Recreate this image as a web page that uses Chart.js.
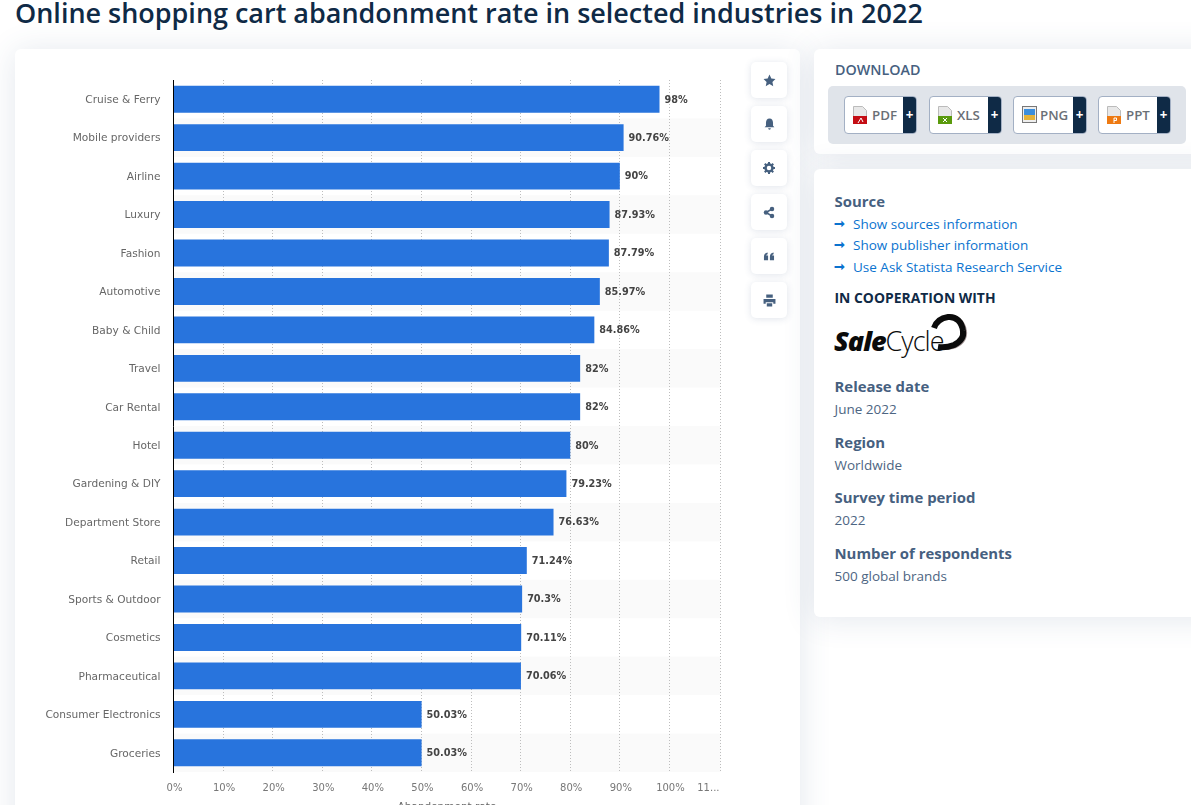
<!DOCTYPE html>
<html>
<head>
<meta charset="utf-8">
<title>Online shopping cart abandonment rate</title>
<script src="https://cdn.jsdelivr.net/npm/chart.js@4"></script>
<style>
html, body { margin: 0; padding: 0; width: 1191px; height: 805px; overflow: hidden; background: #fff; font-family: "Open Sans", sans-serif; }
.abs, .card, .side-btn, .dl-btn { position: absolute; }
.abs { white-space: nowrap; line-height: 20px; }
.card { background: #fff; border-radius: 6px; box-shadow: 0 2px 32px rgba(60, 85, 130, .14); }
h1 { position: absolute; left: 15px; top: -6px; margin: 0; font-size: 26.98px; line-height: 38px; font-weight: 600; color: #0f2a46; white-space: nowrap; }
.side-btn { left: 751px; width: 36px; height: 36px; background: #fff; border-radius: 5px; box-shadow: 0 1px 7px rgba(60, 85, 130, .16); display: flex; align-items: center; justify-content: center; }
.dl-btn { top: 96px; height: 36px; background: #fff; border: 1px solid #a3b0c4; border-radius: 4px; overflow: hidden; font-size: 13.3px; font-weight: 600; color: #6a6f76; }
.dl-btn span { position: absolute; top: 9px; }
.dl-btn i { position: absolute; right: 0; top: 0; width: 13px; height: 36px; background: #0f2a46; color: #fff; font-style: normal; text-align: center; line-height: 36px; font-weight: 700; }
.dl-btn svg { position: absolute; left: 8px; top: 9px; }
.head { font-size: 14.9px; font-weight: 700; color: #46607f; }
.val { font-size: 13.5px; color: #4d6582; }
.lnk { font-size: 13.5px; color: #0a73cf; }
.arr { font-size: 13px; font-weight: 700; color: #0a73cf; }
canvas { position: absolute; left: 0; top: 0; }
</style>
</head>
<body>
<h1>Online shopping cart abandonment rate in selected industries in 2022</h1>

<div class="card" style="left:15px;top:49px;width:785px;height:800px"></div>
<div class="card" style="left:814px;top:49px;width:420px;height:105px"></div>
<div class="card" style="left:814px;top:169px;width:420px;height:448px"></div>

<canvas id="cartchart" width="800" height="830" style="width:800px;height:830px"></canvas>

<div class="side-btn" style="top:62px"><svg width="13" height="13" viewBox="0 0 24 24"><path fill="#46607f" d="M12 1l3.4 7.2 7.6 1-5.6 5.4 1.5 7.9-6.9-3.9-6.9 3.9 1.5-7.9L1 9.2l7.6-1z"/></svg></div>
<div class="side-btn" style="top:106px"><svg width="13" height="14" viewBox="0 0 24 24"><path fill="#46607f" d="M12 2c4.500 0 6.500 3.500 6.500 8v5l2.500 3H3l2.500-3v-5c0-4.500 2-8 6.500-8zM9.500 20h5a2.500 2.500 0 0 1-5 0z"/></svg></div>
<div class="side-btn" style="top:150px"><svg width="12" height="12" viewBox="0 0 24 24"><circle cx="12" cy="12" r="7" fill="none" stroke="#46607f" stroke-width="5"/><path fill="none" stroke="#46607f" stroke-width="4" d="M12 0v5M12 19v5M0 12h5M19 12h5M3.500 3.500l3.500 3.500M17 17l3.500 3.500M3.500 20.500L7 17M17 7l3.500-3.500"/></svg></div>
<div class="side-btn" style="top:194px"><svg width="12" height="13" viewBox="0 0 24 24"><path fill="none" stroke="#46607f" stroke-width="3" d="M18 5L6 12l12 7"/><circle cx="18" cy="5" r="4.500" fill="#46607f"/><circle cx="6" cy="12" r="4.500" fill="#46607f"/><circle cx="18" cy="19" r="4.500" fill="#46607f"/></svg></div>
<div class="side-btn" style="top:238px"><svg width="12" height="11" viewBox="0 0 24 24"><path fill="#46607f" d="M1 12c0-5 3-8 8-9v4c-2 .5-3 1.500-3 3h4v10H1zM14 12c0-5 3-8 8-9v4c-2 .5-3 1.500-3 3h4v10h-9z"/></svg></div>
<div class="side-btn" style="top:282px"><svg width="13" height="13" viewBox="0 0 24 24"><path fill="#46607f" d="M6 1h12v6H6zM1 9h22v9h-4v-3H5v3H1zM7 17h10v6H7z"/></svg></div>

<div class="abs" style="left:835px;top:60px;font-size:14.3px;font-weight:600;color:#46607f">DOWNLOAD</div>
<div class="abs" style="left:828px;top:86px;width:358px;height:58px;background:#e0e4ea;border-radius:5px"></div>
<div class="dl-btn" style="left:844px;width:71px"><svg width="14" height="18" viewBox="0 0 14 18"><path fill="#e8e8e8" stroke="#bbb" d="M.5.500h9l4 4v13H.500z"/><rect y="10" width="14" height="8" fill="#c40d14"/><path stroke="#fff" fill="none" d="M5 17l3-5 2 4"/></svg><span style="left:27px">PDF</span><i>+</i></div>
<div class="dl-btn" style="left:929px;width:71px"><svg width="14" height="18" viewBox="0 0 14 18"><path fill="#e8e8e8" stroke="#bbb" d="M.5.500h9l4 4v13H.500z"/><rect y="10" width="14" height="8" fill="#5a9a0c"/><path stroke="#fff" d="M5 12l4 4M9 12l-4 4"/></svg><span style="left:27px">XLS</span><i>+</i></div>
<div class="dl-btn" style="left:1013px;width:72px"><svg width="15" height="17" viewBox="0 0 15 17"><rect x=".5" y=".5" width="14" height="16" fill="#eee" stroke="#777"/><rect x="2" y="3" width="11" height="6" fill="#3c8fdd"/><rect x="2" y="9" width="11" height="5" fill="#e5b33a"/></svg><span style="left:26px">PNG</span><i>+</i></div>
<div class="dl-btn" style="left:1098px;width:71px"><svg width="14" height="18" viewBox="0 0 14 18"><path fill="#e8e8e8" stroke="#bbb" d="M.5.500h9l4 4v13H.500z"/><rect y="10" width="14" height="8" fill="#ee7a12"/><path stroke="#fff" fill="none" d="M7 17v-5h2.500v2.500H7"/></svg><span style="left:27px">PPT</span><i>+</i></div>

<div class="abs head" style="left:834.5px;top:191px">Source</div>
<div class="abs arr" style="left:834px;top:213px">➞</div><div class="abs lnk" style="left:853px;top:214px">Show sources information</div>
<div class="abs arr" style="left:834px;top:234px">➞</div><div class="abs lnk" style="left:853px;top:235px">Show publisher information</div>
<div class="abs arr" style="left:834px;top:256px">➞</div><div class="abs lnk" style="left:853px;top:257px">Use Ask Statista Research Service</div>
<div class="abs" style="left:834.5px;top:288px;font-size:13.9px;font-weight:700;color:#0f2a46">IN COOPERATION WITH</div>

<div class="abs" style="left:834px;top:326px;font-size:27px;line-height:30px;color:#0b0b0b;letter-spacing:-1px"><b style="font-style:italic;font-weight:800">Sale</b><span style="font-weight:300">Cycle</span></div>
<svg class="abs" style="left:930px;top:312px" width="40" height="42" viewBox="0 0 40 42"><path d="M8 37c7 0 13 0 18-2 7-3 11-9 10-16C35 10 28 3 18 4 11 5 6 9 5 15" fill="none" stroke="#a89a9a" stroke-width="2"/><path d="M8 35c6 1 11 0 16-2 6-3 10-8 9-14C32 10 26 4 18 5 11 6 6 10 4 16" fill="none" stroke="#0b0b0b" stroke-width="6"/></svg>

<div class="abs head" style="left:834.5px;top:376px">Release date</div>
<div class="abs val" style="left:834.5px;top:399px">June 2022</div>
<div class="abs head" style="left:834.5px;top:432px">Region</div>
<div class="abs val" style="left:834.5px;top:455px">Worldwide</div>
<div class="abs head" style="left:834.5px;top:487px">Survey time period</div>
<div class="abs val" style="left:834.5px;top:510px">2022</div>
<div class="abs head" style="left:834.5px;top:543px">Number of respondents</div>
<div class="abs val" style="left:834.5px;top:566px">500 global brands</div>

<script>
const industries = ['Cruise & Ferry', 'Mobile providers', 'Airline', 'Luxury', 'Fashion', 'Automotive',
    'Baby & Child', 'Travel', 'Car Rental', 'Hotel', 'Gardening & DIY', 'Department Store', 'Retail',
    'Sports & Outdoor', 'Cosmetics', 'Pharmaceutical', 'Consumer Electronics', 'Groceries'];
const abandonment = [98, 90.76, 90, 87.93, 87.79, 85.97, 84.86, 82, 82, 80, 79.23, 76.63, 71.24, 70.3, 70.11, 70.06, 50.03, 50.03];
const tickValues = [0, 10, 20, 30, 40, 50, 60, 70, 80, 90, 100, 110.3];
const tickLabels = ['0%', '10%', '20%', '30%', '40%', '50%', '60%', '70%', '80%', '90%', '100%', '11...'];

const axisFont = '"DejaVu Sans", sans-serif';

// grey band behind every second row
const rowBands = {
    id: 'rowBands',
    beforeDraw(chart) {
        const { ctx, chartArea, scales } = chart;
        const step = chartArea.height / industries.length;
        ctx.save();
        ctx.fillStyle = '#fafafa';
        industries.forEach((name, i) => {
            if (i % 2 == 1) {
                ctx.fillRect(chartArea.left, scales.y.getPixelForValue(i) - step / 2, chartArea.width, step);
            }
        });
        ctx.restore();
    }
};

// value next to each bar, and the shortened last tick which sits left of its gridline
const barLabels = {
    id: 'barLabels',
    afterDatasetsDraw(chart) {
        const { ctx, scales } = chart;
        ctx.save();
        ctx.font = 'bold 9.7px ' + axisFont;
        ctx.fillStyle = '#444';
        ctx.textBaseline = 'middle';
        abandonment.forEach((v, i) => {
            ctx.fillText(v + '%', scales.x.getPixelForValue(v) + 5, scales.y.getPixelForValue(i) + 0.8);
        });
        ctx.font = '10px ' + axisFont;
        ctx.fillStyle = '#777';
        ctx.textAlign = 'right';
        ctx.fillText(tickLabels[tickLabels.length - 1], scales.x.getPixelForValue(110.3) - 1, 788);
        ctx.restore();
    }
};

new Chart(document.getElementById('cartchart'), {
    type: 'bar',
    data: {
        labels: industries,
        datasets: [{
            data: abandonment,
            backgroundColor: '#2874dd',
            barPercentage: 0.7,
            categoryPercentage: 1
        }]
    },
    options: {
        indexAxis: 'y',
        responsive: false,
        animation: false,
        layout: {
            padding: { top: 80, right: 79.5, bottom: 12, left: 15 }
        },
        plugins: {
            legend: { display: false },
            tooltip: { enabled: false }
        },
        scales: {
            x: {
                min: 0,
                max: 110.3,
                afterBuildTicks: scale => { scale.ticks = tickValues.map(value => ({ value })); },
                afterFit: scale => { scale.height = 46; },
                grid: { color: '#bdbdbd', drawTicks: false },
                border: { display: false, dash: [1, 2] },
                ticks: {
                    autoSkip: false,
                    maxRotation: 0,
                    padding: 10,
                    labelOffset: 1,
                    color: '#777',
                    font: { family: axisFont, size: 10 },
                    callback: value => value > 100 ? '' : tickLabels[tickValues.indexOf(value)]
                },
                title: {
                    display: true,
                    text: 'Abandonment rate',
                    color: '#666',
                    font: { family: axisFont, size: 10.5 }
                }
            },
            y: {
                afterFit: scale => { scale.width = 158.5; },
                grid: { display: false, drawTicks: false },
                border: { display: true, color: '#000', width: 1 },
                ticks: {
                    padding: 13,
                    labelOffset: 1,
                    color: '#666',
                    font: { family: axisFont, size: 10.6 }
                }
            }
        }
    },
    plugins: [rowBands, barLabels]
});
</script>
</body>
</html>
